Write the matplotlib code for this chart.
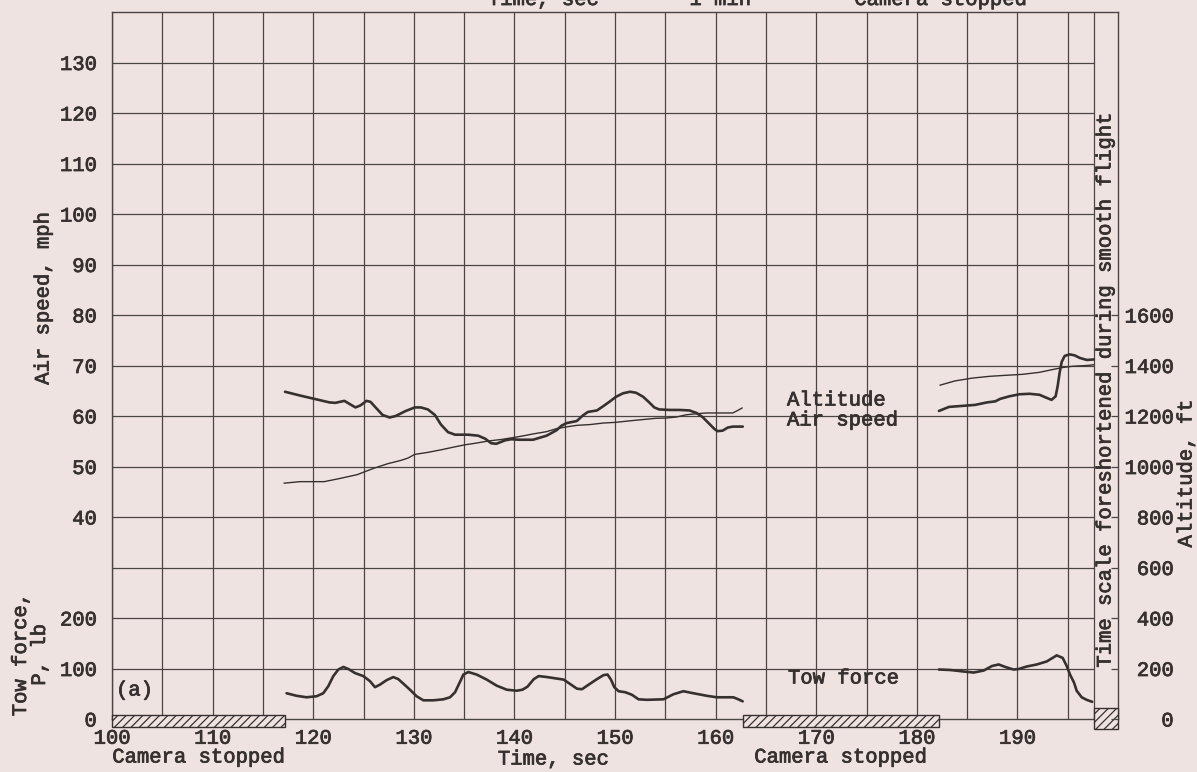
import matplotlib
matplotlib.use("Agg")
import matplotlib.pyplot as plt
import matplotlib.patheffects as pe
from matplotlib.patches import Rectangle

plt.rcParams['font.family'] = ['Liberation Mono', 'DejaVu Sans Mono']
plt.rcParams['hatch.linewidth'] = 0.9
plt.rcParams['hatch.color'] = '#383232'

PAPER = '#efe3e1'
INK = '#363030'
GRID = '#4a4444'
FS = 14.8
THICK = [pe.withStroke(linewidth=0.55, foreground=INK)]

# ---------------- data ----------------
time_ticks = [100, 110, 120, 130, 140, 150, 160, 170, 180, 190]
time_minor = [105, 115, 125, 135, 145, 155, 165, 175, 185, 195]
speed_ticks = [40, 50, 60, 70, 80, 90, 100, 110, 120, 130]
speed_grid = [10, 20, 30, 40, 50, 60, 70, 80, 90, 100, 110, 120, 130]
tow_ticks = [0, 100, 200]
alt_ticks = [0, 200, 400, 600, 800, 1000, 1200, 1400, 1600]
camera_stopped = [(100, 117.2), (162.7, 182.2)]
strip_start = 197.6

# Air speed, mph
t_speed_a = [117.2, 118.7, 120.1, 121.6, 122.2, 123.1, 123.6, 124.2, 124.7, 125.3,
             125.7, 126.2, 126.9, 127.6, 128.2, 129.2, 130.1, 130.7, 131.4, 132.1,
             132.7, 133.4, 134.1, 135.4, 136.4, 137.1, 137.7, 138.2, 139.1, 139.7,
             140.5, 141.85, 143.2, 144.2, 144.7, 145.2, 146.2, 146.8, 147.3, 148.2,
             148.8, 149.5, 150.1, 150.8, 151.5, 152.1, 152.8, 153.4, 153.9, 154.4,
             155.4, 156.4, 157.4, 158.1, 158.7, 159.4, 159.9, 160.2, 160.7, 161.2,
             161.7, 162.7]
speed_a = [64.8, 64.05, 63.4, 62.7, 62.6, 63.0, 62.4, 61.7, 62.1, 63.0,
           62.8, 61.7, 60.2, 59.7, 60.0, 61.0, 61.7, 61.7, 61.3, 60.2,
           58.3, 56.8, 56.3, 56.3, 56.1, 55.5, 54.6, 54.5, 55.2, 55.4,
           55.3, 55.3, 56.1, 57.2, 58.1, 58.6, 59.0, 60.1, 60.8, 61.1,
           61.9, 62.9, 63.8, 64.5, 64.8, 64.6, 63.8, 62.7, 61.7, 61.3,
           61.2, 61.2, 61.1, 60.6, 59.8, 58.4, 57.4, 57.0, 57.1, 57.7,
           57.9, 57.9]
t_speed_b = [182.2, 183.2, 184.5, 185.8, 187.0, 187.8, 188.3, 189.2, 190.2, 191.2,
             192.2, 192.9, 193.4, 193.8, 194.0, 194.2, 194.4, 194.7, 195.2, 195.7,
             196.2, 196.9, 197.6]
speed_b = [61.0, 61.8, 62.0, 62.2, 62.7, 62.9, 63.4, 63.9, 64.3, 64.4,
           64.2, 63.6, 63.2, 63.9, 65.9, 68.6, 70.7, 71.9, 72.2, 72.0,
           71.5, 71.1, 71.2]

# Altitude, ft
t_alt_a = [117.1, 118.7, 121.1, 122.7, 124.4, 125.1, 126.1, 127.4, 128.7, 129.4,
           130.1, 131.4, 132.7, 134.1, 135.1, 136.1, 137.4, 138.7, 140.1, 141.1,
           141.85, 143.2, 144.2, 145.2, 146.2, 147.5, 148.8, 150.1, 151.5, 152.8,
           154.1, 155.1, 156.1, 157.1, 158.1, 159.1, 160.4, 161.7, 162.2, 162.65]
alt_a = [934, 940, 940, 953, 968, 979, 994, 1011, 1024, 1033,
         1048, 1056, 1066, 1078, 1086, 1092, 1101, 1107, 1116, 1123,
         1129, 1138, 1150, 1157, 1163, 1166, 1172, 1175, 1181, 1186,
         1191, 1192, 1196, 1205, 1209, 1212, 1212, 1212, 1222, 1232]
t_alt_b = [182.3, 183.8, 185.5, 187.2, 188.8, 190.5, 192.2, 193.5, 194.5, 195.5,
           196.9, 197.6]
alt_b = [1322, 1339, 1350, 1357, 1361, 1365, 1373, 1384, 1392, 1397, 1400, 1403]

# Tow force P, lb
t_tow_a = [117.35, 118.34, 119.34, 120.33, 121.0, 121.5, 122.0, 122.5, 123.0, 123.5,
           124.15, 124.98, 125.64, 126.14, 126.63, 127.3, 127.96, 128.46, 128.96, 129.62,
           130.28, 130.95, 131.94, 132.94, 133.6, 134.1, 134.53, 134.93, 135.42, 136.25,
           137.25, 138.24, 139.24, 140.23, 140.8, 141.3, 141.93, 142.42, 143.25, 144.24,
           144.9, 145.56, 146.22, 146.72, 147.38, 148.21, 148.87, 149.26, 149.6, 149.93,
           150.36, 151.02, 151.68, 152.34, 153.17, 154.82, 155.81, 156.8, 157.79, 159.12,
           160.11, 161.1, 161.76, 162.26, 162.69]
tow_a = [51, 46, 43, 45, 51, 65, 85, 98, 103, 99,
         91, 85, 75, 63, 68, 77, 83, 79, 70, 58,
         45, 37, 37, 39, 43, 53, 71, 88, 93, 88,
         78, 66, 58, 56, 58, 64, 79, 85, 83, 80,
         78, 69, 60, 59, 68, 79, 87, 88, 78, 63,
         55, 53, 48, 39, 38, 39, 49, 55, 51, 46,
         43, 43, 43, 39, 35]
t_tow_b = [182.2, 183.35, 184.67, 185.66, 186.65, 187.48, 188.14, 188.8, 189.62, 190.12,
           190.94, 191.93, 192.92, 193.91, 194.5, 194.9, 195.23, 195.63, 195.89, 196.39,
           196.88, 197.44]
tow_b = [98, 97, 94, 92, 96, 105, 108, 103, 98, 99,
         104, 108, 114, 126, 121, 105, 88, 72, 56, 43,
         38, 34]

# ---------------- figure ----------------
W, H = 1197, 772
fig = plt.figure(figsize=(W / 100, H / 100), dpi=100, facecolor=PAPER)


def px(x, y):
    return x / W, 1 - y / H


L, R, B, T = 112 / W, 1118 / W, 1 - 719 / H, 1 - 12 / H
ax = fig.add_axes([L, B, R - L, T - B])
ax.set_facecolor(PAPER)
ax.set_xlim(100, 200)
ax.set_ylim(0, 140)

for s in ax.spines.values():
    s.set_color(GRID)
    s.set_linewidth(1.0)

# grid
ax.set_xticks(time_ticks)
ax.set_xticks(time_minor, minor=True)
ax.grid(axis='x', which='both', color=GRID, lw=0.9, zorder=1)
ax.axvline(strip_start, color=GRID, lw=0.9, zorder=1)
ax.hlines(speed_grid, 100, strip_start, color=GRID, lw=0.9, zorder=1)

ax.tick_params(axis='x', which='both', length=0, pad=7, labelsize=FS, labelcolor=INK)
ax.set_yticks(speed_ticks)
ax.tick_params(axis='y', length=0, pad=11, labelsize=FS, labelcolor=INK)

# tow force axis (left, lower)
axP = ax.twinx()
axP.set_ylim(0, 1400)
axP.yaxis.tick_left()
axP.set_yticks(tow_ticks)
axP.tick_params(axis='y', length=0, pad=11, labelsize=FS, labelcolor=INK)

# altitude axis (right)
axA = ax.twinx()
axA.set_ylim(0, 2800)
axA.set_yticks(alt_ticks, labels=[str(v) for v in alt_ticks], ha='right')
axA.tick_params(axis='y', direction='in', length=5, width=0.9, color=GRID,
                pad=40, labelsize=FS, labelcolor=INK)

for a in (axP, axA):
    for s in a.spines.values():
        s.set_visible(False)

for lab in (ax.get_xticklabels() + ax.get_yticklabels() + axP.get_yticklabels()
            + axA.get_yticklabels()):
    lab.set_path_effects(THICK)

# curves
kw = dict(color=INK, solid_joinstyle='round', solid_capstyle='round')
ax.plot(t_speed_a, speed_a, lw=1.9, **kw)
ax.plot(t_speed_b, speed_b, lw=1.9, **kw)
axA.plot(t_alt_a, alt_a, lw=1.0, **kw)
axA.plot(t_alt_b, alt_b, lw=1.0, **kw)
axP.plot(t_tow_a, tow_a, lw=1.9, **kw)
axP.plot(t_tow_b, tow_b, lw=1.9, **kw)

# hatched "camera stopped" bars and strip box
for t0, t1 in camera_stopped:
    ax.add_patch(Rectangle((t0, -1.6), t1 - t0, 2.4, facecolor=PAPER, edgecolor=INK,
                           hatch='////', lw=1.0, clip_on=False, zorder=5))
ax.add_patch(Rectangle((strip_start, -2.0), 200 - strip_start, 4.2, facecolor=PAPER,
                       edgecolor=INK, hatch='////', lw=1.0, clip_on=False, zorder=5))

# texts
tk = dict(fontsize=FS, color=INK, path_effects=THICK)
fig.text(*px(43, 299), 'Air speed, mph', rotation=90, ha='center', va='center', **tk)
fig.text(*px(30, 655), 'Tow force,\nP, lb', rotation=90, ha='center', va='center',
         multialignment='center', linespacing=1.0, **tk)
fig.text(*px(1186, 474), 'Altitude, ft', rotation=90, ha='center', va='center', **tk)
fig.text(*px(1105, 392), 'Time scale foreshortened during smooth flight', rotation=90,
         ha='center', va='center', **tk)
fig.text(*px(198, 757), 'Camera stopped', ha='center', va='center', **tk)
fig.text(*px(553, 759), 'Time, sec', ha='center', va='center', **tk)
fig.text(*px(840, 757), 'Camera stopped', ha='center', va='center', **tk)
fig.text(*px(787, 400), 'Altitude', ha='left', va='center', **tk)
fig.text(*px(787, 420), 'Air speed', ha='left', va='center', **tk)
fig.text(*px(788, 678), 'Tow force', ha='left', va='center', **tk)
fig.text(*px(116, 690), '(a)', ha='left', va='center', **tk)
# header texts cut at the top edge, as in the reference scan
fig.text(*px(543, 5), 'Time, sec', ha='center', va='baseline', **tk)
fig.text(*px(720, 5), '1 min', ha='center', va='baseline', **tk)
fig.text(*px(940, 5), 'Camera stopped', ha='center', va='baseline', **tk)

fig.savefig('out.png', dpi=100, facecolor=PAPER)
